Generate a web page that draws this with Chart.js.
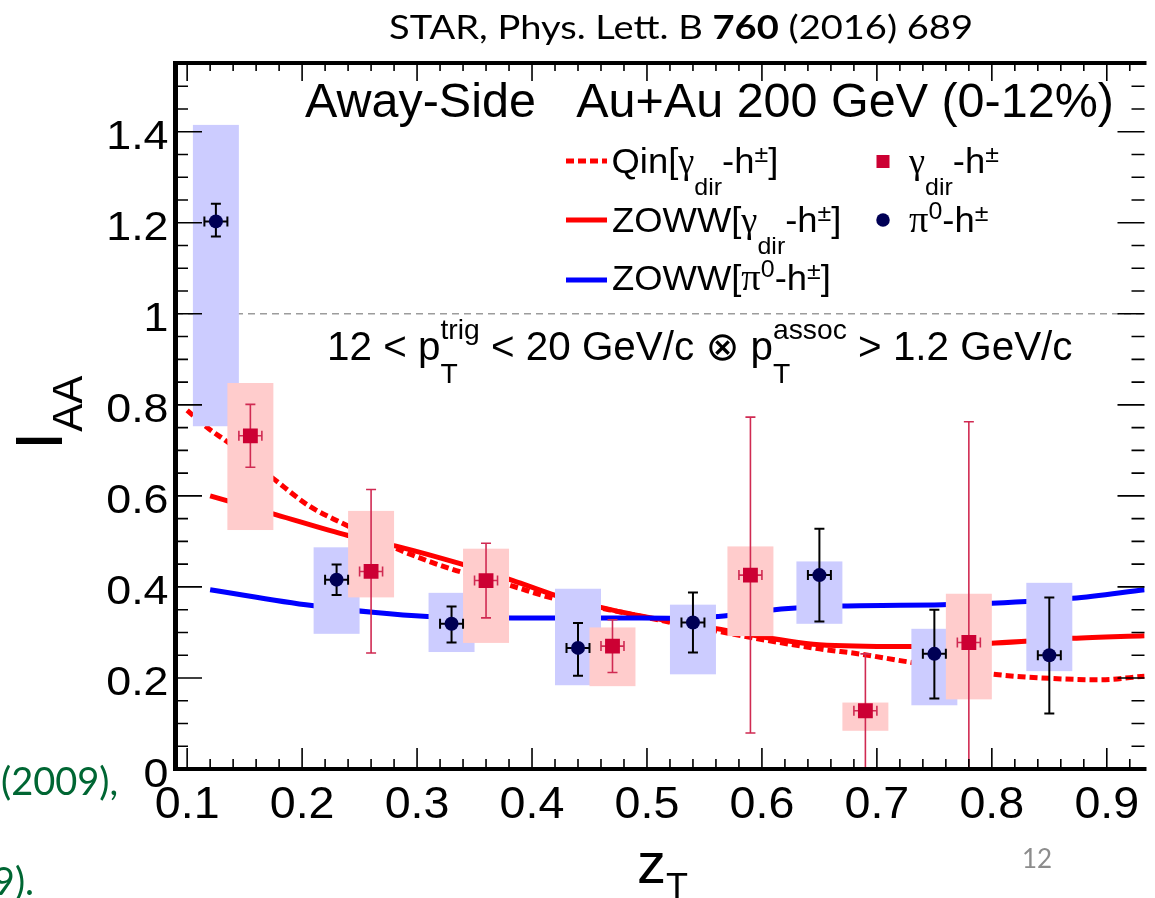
<!DOCTYPE html>
<html>
<head>
<meta charset="utf-8">
<script src="https://cdn.jsdelivr.net/npm/chart.js@4.4.0/dist/chart.umd.min.js"></script>
<style>
  html, body { margin: 0; padding: 0; background: #fff; overflow: hidden; }
  #wrap { position: relative; width: 1155px; height: 898px; }
</style>
</head>
<body>
<div id="wrap"><canvas id="c" width="1155" height="898"></canvas></div>
<script>
// ---- axis ranges and tick labels ----
const X_RANGE = [0.0903, 0.9328];
const Y_RANGE = [0, 1.551];
const xMajorTicks = [0.1, 0.2, 0.3, 0.4, 0.5, 0.6, 0.7, 0.8, 0.9];
const xTickLabels = ['0.1', '0.2', '0.3', '0.4', '0.5', '0.6', '0.7', '0.8', '0.9'];
const yMajorTicks = [0, 0.2, 0.4, 0.6, 0.8, 1.0, 1.2, 1.4];
const yTickLabels = ['0', '0.2', '0.4', '0.6', '0.8', '1', '1.2', '1.4'];

// ---- pi0-h+- measurement ----
const pi0Z      = [0.125, 0.23, 0.33, 0.44, 0.54, 0.65, 0.75, 0.85];
const pi0I      = [1.203, 0.416, 0.319, 0.266, 0.322, 0.426, 0.253, 0.250];
const pi0StatLo = [1.170, 0.382, 0.278, 0.205, 0.256, 0.324, 0.155, 0.122];
const pi0StatHi = [1.242, 0.449, 0.357, 0.321, 0.388, 0.528, 0.350, 0.377];
const pi0SysLo  = [0.753, 0.297, 0.257, 0.184, 0.208, 0.319, 0.140, 0.215];
const pi0SysHi  = [1.415, 0.487, 0.387, 0.396, 0.361, 0.456, 0.308, 0.409];

// ---- gamma_dir-h+- measurement ----
const gamZ      = [0.155, 0.26, 0.36, 0.47, 0.59, 0.69, 0.78];
const gamI      = [0.732, 0.434, 0.414, 0.270, 0.426, 0.128, 0.278];
const gamStatLo = [0.663, 0.255, 0.332, 0.212, 0.079, 0.000, 0.000];
const gamStatHi = [0.801, 0.614, 0.496, 0.328, 0.773, 0.253, 0.763];
const gamSysLo  = [0.525, 0.377, 0.277, 0.182, 0.292, 0.084, 0.153];
const gamSysHi  = [0.848, 0.567, 0.484, 0.311, 0.489, 0.146, 0.385];

// half widths of the stat bars (in zT) and the systematic boxes
const zStatHalf = 0.01;
const zBoxHalf = 0.02;

// ---- model curves ----
const qinZ  = [0.100, 0.117, 0.137, 0.177, 0.206, 0.234, 0.260, 0.286, 0.329, 0.380, 0.420, 0.467, 0.513, 0.559, 0.592, 0.650, 0.687, 0.723, 0.806, 0.851, 0.894, 0.933];
const qinI  = [0.788, 0.751, 0.715, 0.634, 0.578, 0.541, 0.510, 0.480, 0.440, 0.404, 0.374, 0.350, 0.326, 0.304, 0.288, 0.264, 0.252, 0.237, 0.207, 0.199, 0.196, 0.204];
const zowwGZ = [0.120, 0.177, 0.240, 0.286, 0.3375, 0.3835, 0.421, 0.472, 0.513, 0.559, 0.650, 0.723, 0.803, 0.870, 0.933];
const zowwGI = [0.600, 0.559, 0.513, 0.487, 0.451, 0.414, 0.381, 0.348, 0.328, 0.309, 0.273, 0.269, 0.277, 0.287, 0.293];
const zowwPZ = [0.120, 0.2085, 0.309, 0.3835, 0.472, 0.519, 0.562, 0.611, 0.670, 0.757, 0.800, 0.870, 0.933];
const zowwPI = [0.394, 0.359, 0.335, 0.332, 0.332, 0.331, 0.335, 0.350, 0.358, 0.361, 0.364, 0.375, 0.394];

const FONT = "'Liberation Sans', Arial, Helvetica, 'DejaVu Sans', sans-serif";
const GREEK = "'Liberation Serif', 'DejaVu Serif', serif";
const pairs = (xs, ys) => xs.map((x, i) => ({ x, y: ys[i] }));

function richWidth(ctx, parts) {
  let w = 0;
  for (const p of parts) {
    ctx.font = `${p.bold ? 'bold ' : ''}${p.size}px ${p.family || FONT}`;
    if (p.t != null) w += ctx.measureText(p.t).width;
    else w += Math.max(p.sub ? ctx.measureText(p.sub).width : 0, p.sup ? ctx.measureText(p.sup).width : 0);
  }
  return w;
}

// text runs with ROOT-like sub/superscripts stacked at the same x
function rich(ctx, x, y, parts, o = {}) {
  ctx.save();
  let sx = o.sx || 1;
  if (o.fit) sx = o.fit / richWidth(ctx, parts);
  ctx.translate(x, y);
  if (o.rot) ctx.rotate(o.rot);
  ctx.scale(sx, 1);
  ctx.fillStyle = o.color || '#000';
  ctx.textBaseline = 'alphabetic';
  ctx.textAlign = 'left';
  let cx = 0;
  for (const p of parts) {
    ctx.font = `${p.bold ? 'bold ' : ''}${p.size}px ${p.family || FONT}`;
    if (p.t != null) {
      ctx.fillText(p.t, cx, p.dy || 0);
      cx += ctx.measureText(p.t).width;
    } else {
      let w = 0;
      if (p.sub) { ctx.fillText(p.sub, cx, p.subDy); w = Math.max(w, ctx.measureText(p.sub).width); }
      if (p.sup) { ctx.fillText(p.sup, cx, p.supDy); w = Math.max(w, ctx.measureText(p.sup).width); }
      cx += w;
    }
  }
  ctx.restore();
}

function label(ctx, s, x, y, size, align, sx, family, color) {
  ctx.save();
  ctx.font = `${size}px ${family || FONT}`;
  ctx.fillStyle = color || '#000';
  ctx.textAlign = align;
  ctx.textBaseline = 'alphabetic';
  ctx.translate(x, y);
  ctx.scale(sx, 1);
  ctx.fillText(s, 0, 0);
  ctx.restore();
}

const PI0_BOX = 'rgb(204,204,255)';
const GAM_BOX = 'rgb(255,204,204)';
const PI0_MARK = '#000055';
const GAM_MARK = '#cc0033';
const GAM_ERR = '#d02a52';

function errBar(ctx, xs, ys, z, v, lo, hi, color, lw) {
  const cap = 5;
  const x = xs.getPixelForValue(z), y = ys.getPixelForValue(v);
  const yl = ys.getPixelForValue(lo), yh = ys.getPixelForValue(hi);
  const xl = xs.getPixelForValue(z - zStatHalf), xr = xs.getPixelForValue(z + zStatHalf);
  ctx.strokeStyle = color;
  ctx.lineWidth = lw;
  ctx.beginPath();
  ctx.moveTo(x, yl); ctx.lineTo(x, yh);
  ctx.moveTo(x - cap, yl); ctx.lineTo(x + cap, yl);
  ctx.moveTo(x - cap, yh); ctx.lineTo(x + cap, yh);
  ctx.moveTo(xl, y); ctx.lineTo(xr, y);
  ctx.moveTo(xl, y - cap); ctx.lineTo(xl, y + cap);
  ctx.moveTo(xr, y - cap); ctx.lineTo(xr, y + cap);
  ctx.stroke();
}

function sysBox(ctx, xs, ys, z, lo, hi, color) {
  const x0 = xs.getPixelForValue(z - zBoxHalf), x1 = xs.getPixelForValue(z + zBoxHalf);
  const y0 = ys.getPixelForValue(hi), y1 = ys.getPixelForValue(lo);
  ctx.fillStyle = color;
  ctx.fillRect(x0, y0, x1 - x0, y1 - y0);
}

// legend text pieces: γ_dir and π^0 use a serif Greek face
const gDir = (S, s) => [{ t: 'γ', size: S, family: GREEK }, { sub: 'dir', size: s, subDy: 22 }];
const pi0s = (S, s) => [{ t: 'π', size: S + 2, family: GREEK }, { sup: '0', size: s, supDy: -13 }];
const hpm = (S, s) => [{ t: '-h', size: S }, { sup: '±', size: s, supDy: -11 }];

const overlay = {
  id: 'overlay',
  beforeDatasetsDraw(chart) {
    const ctx = chart.ctx, a = chart.chartArea;
    const y1 = chart.scales.y.getPixelForValue(1);
    ctx.save();
    ctx.strokeStyle = '#9c9c9c';
    ctx.lineWidth = 1.5;
    ctx.setLineDash([7, 5]);
    ctx.beginPath(); ctx.moveTo(a.left, y1); ctx.lineTo(a.right, y1); ctx.stroke();
    ctx.restore();
  },
  // systematic boxes sit above the model curves, stat bars above the boxes
  afterDatasetDraw(chart, args) {
    if (chart.data.datasets[args.index].label !== 'ZOWW[π0-h±]') return;
    const ctx = chart.ctx, a = chart.chartArea, xs = chart.scales.x, ys = chart.scales.y;
    ctx.save();
    ctx.beginPath(); ctx.rect(a.left, a.top, a.right - a.left, a.bottom - a.top); ctx.clip();
    pi0Z.forEach((z, i) => sysBox(ctx, xs, ys, z, pi0SysLo[i], pi0SysHi[i], PI0_BOX));
    gamZ.forEach((z, i) => sysBox(ctx, xs, ys, z, gamSysLo[i], gamSysHi[i], GAM_BOX));
    pi0Z.forEach((z, i) => errBar(ctx, xs, ys, z, pi0I[i], pi0StatLo[i], pi0StatHi[i], '#000', 2));
    gamZ.forEach((z, i) => errBar(ctx, xs, ys, z, gamI[i], gamStatLo[i], gamStatHi[i], GAM_ERR, 1.6));
    ctx.restore();
  },
  afterDraw(chart) {
    const ctx = chart.ctx, a = chart.chartArea, xs = chart.scales.x, ys = chart.scales.y;
    ctx.save();
    ctx.setLineDash([]);
    // tick marks, pointing inward on all four sides
    ctx.strokeStyle = '#000';
    ctx.lineWidth = 1.6;
    ctx.beginPath();
    for (let i = 0; i <= 41; i++) {
      const v = 0.1 + i * 0.02;
      const x = xs.getPixelForValue(v);
      const major = i % 5 === 0;
      ctx.moveTo(x, a.bottom); ctx.lineTo(x, a.bottom - (major ? 21 : 10));
      ctx.moveTo(x, a.top); ctx.lineTo(x, a.top + (major ? 18 : 8));
    }
    for (let i = 0; i <= 31; i++) {
      const v = i * 0.05;
      const y = ys.getPixelForValue(v);
      const major = i % 4 === 0;
      ctx.moveTo(a.left, y); ctx.lineTo(a.left + (major ? 26 : 12), y);
      ctx.moveTo(a.right, y); ctx.lineTo(a.right - (major ? 27 : 13), y);
    }
    ctx.stroke();

    // frame
    ctx.lineWidth = 4;
    ctx.beginPath();
    ctx.moveTo(a.left - 3, a.top); ctx.lineTo(a.right + 2, a.top);
    ctx.moveTo(a.left - 3, a.bottom); ctx.lineTo(a.right + 2, a.bottom);
    ctx.stroke();
    ctx.lineWidth = 5;
    ctx.beginPath();
    ctx.moveTo(a.left - 0.5, a.top - 2); ctx.lineTo(a.left - 0.5, a.bottom + 2);
    ctx.stroke();
    ctx.restore();

    // tick labels
    xMajorTicks.forEach((v, i) => label(ctx, xTickLabels[i], xs.getPixelForValue(v), 818, 44, 'center', 1.06));
    yMajorTicks.forEach((v, i) => label(ctx, yTickLabels[i], 168.5, ys.getPixelForValue(v) + 17.5, 40, 'right', 1.12));

    // axis titles
    rich(ctx, 62, 450, [{ t: 'I', size: 66 }, { sub: 'AA', size: 42, subDy: 20 }], { rot: -Math.PI / 2 });
    rich(ctx, 637, 883, [{ t: 'z', size: 58 }, { sub: 'T', size: 36, subDy: 16 }]);

    // header and kinematic selection
    rich(ctx, 305, 117, [{ t: 'Away-Side   Au+Au 200 GeV (0-12%)', size: 48 }], { sx: 1.01 });
    rich(ctx, 327, 360, [
      { t: '12 < p', size: 40 },
      { sub: 'T', sup: 'trig', size: 28, subDy: 23, supDy: -21 },
      { t: ' < 20 GeV/c \u2297 p', size: 40 },
      { sub: 'T', sup: 'assoc', size: 28, subDy: 23, supDy: -21 },
      { t: ' > 1.2 GeV/c', size: 40 }
    ], { sx: 1.01 });

    // legend
    ctx.save();
    ctx.lineWidth = 5;
    ctx.strokeStyle = '#ff0000';
    ctx.setLineDash([8, 4]);
    ctx.beginPath(); ctx.moveTo(566, 161); ctx.lineTo(607, 161); ctx.stroke();
    ctx.setLineDash([]);
    ctx.beginPath(); ctx.moveTo(566, 220); ctx.lineTo(607, 220); ctx.stroke();
    ctx.strokeStyle = '#0000ff';
    ctx.beginPath(); ctx.moveTo(566, 280); ctx.lineTo(607, 280); ctx.stroke();
    ctx.fillStyle = GAM_MARK;
    ctx.fillRect(876.5, 155, 13, 13);
    ctx.fillStyle = PI0_MARK;
    ctx.beginPath(); ctx.arc(883, 220, 6.75, 0, Math.PI * 2); ctx.fill();
    ctx.restore();

    const LS = 35, SS = 24, LSX = 1.04;
    rich(ctx, 611.5, 173, [{ t: 'Qin[', size: LS }, ...gDir(LS, SS), ...hpm(LS, SS), { t: ']', size: LS }], { sx: LSX });
    rich(ctx, 612, 232, [{ t: 'ZOWW[', size: LS }, ...gDir(LS, SS), ...hpm(LS, SS), { t: ']', size: LS }], { sx: LSX });
    rich(ctx, 612, 290, [{ t: 'ZOWW[', size: LS }, ...pi0s(LS, SS), ...hpm(LS, SS), { t: ']', size: LS }], { sx: LSX });
    rich(ctx, 909, 173, [...gDir(LS, SS), ...hpm(LS, SS)], { sx: LSX });
    rich(ctx, 909, 232, [...pi0s(LS, SS), ...hpm(LS, SS)], { sx: LSX });

    // slide text around the figure
    rich(ctx, 389, 39, [
      { t: 'STAR, Phys. Lett. B ', size: 32, family: 'Lato' },
      { t: '760', size: 32, family: 'Lato', bold: true },
      { t: ' (2016) 689', size: 32, family: 'Lato' }
    ], { fit: 584 });
    label(ctx, '(2009),', 1, 795, 38, 'left', 1.0, 'Lato', '#006633');
    label(ctx, '9).', 34, 895, 38, 'right', 1.0, 'Lato', '#006633');
    label(ctx, '12', 1022, 868, 26, 'left', 1.0, 'Lato', '#8c8c8c');
  }
};

new Chart(document.getElementById('c').getContext('2d'), {
  type: 'scatter',
  data: {
    datasets: [
      { label: 'γdir-h±', data: pairs(gamZ, gamI), pointStyle: 'rect', pointRadius: 10.5, backgroundColor: GAM_MARK, borderWidth: 0, order: 0 },
      { label: 'π0-h±', data: pairs(pi0Z, pi0I), pointStyle: 'circle', pointRadius: 7, backgroundColor: PI0_MARK, borderWidth: 0, order: 1 },
      { label: 'ZOWW[π0-h±]', data: pairs(zowwPZ, zowwPI), showLine: true, borderColor: '#0000ff', borderWidth: 5, pointRadius: 0, cubicInterpolationMode: 'monotone', order: 3 },
      { label: 'ZOWW[γdir-h±]', data: pairs(zowwGZ, zowwGI), showLine: true, borderColor: '#ff0000', borderWidth: 5, pointRadius: 0, cubicInterpolationMode: 'monotone', order: 4 },
      { label: 'Qin[γdir-h±]', data: pairs(qinZ, qinI), showLine: true, borderColor: '#ff0000', borderWidth: 5, borderDash: [8, 4], pointRadius: 0, cubicInterpolationMode: 'monotone', order: 5 }
    ]
  },
  options: {
    responsive: false,
    animation: false,
    devicePixelRatio: 1,
    layout: { padding: { left: 176, right: 0, top: 63, bottom: 129 } },
    scales: {
      x: { type: 'linear', display: false, min: X_RANGE[0], max: X_RANGE[1] },
      y: { type: 'linear', display: false, min: Y_RANGE[0], max: Y_RANGE[1] }
    },
    plugins: { legend: { display: false }, tooltip: { enabled: false } },
    events: []
  },
  plugins: [overlay]
});
</script>
</body>
</html>
